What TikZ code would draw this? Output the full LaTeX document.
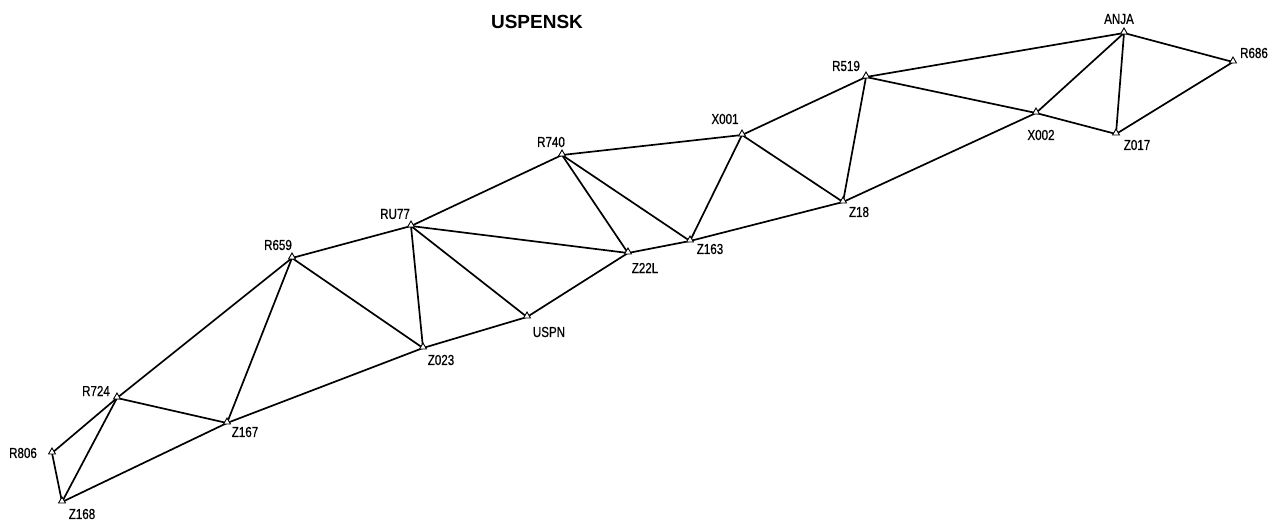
\documentclass[tikz,border=0pt]{standalone}
\usepackage{fontspec}
\setmainfont{Liberation Sans}
\newfontfamily\stationfont{Liberation Sans}[FakeStretch=0.8,FakeBold=0.6]
\usetikzlibrary{shapes.geometric}
\begin{document}
\begin{tikzpicture}[x=1pt,y=-1pt,
  station/.style={regular polygon,regular polygon sides=3,draw,line width=0.9pt,
    minimum size=8pt,inner sep=0pt,fill=white},
  stlabel/.style={font=\stationfont\fontsize{14.5}{14.5}\selectfont,inner sep=0pt,anchor=center},
  leg/.style={line width=1.7pt,black}]
\useasboundingbox (0,0) rectangle (1278,521);
\fill[white] (0,0) rectangle (1278,521);

% survey stations
\coordinate (R806) at (52,453);
\coordinate (Z168) at (62,502);
\coordinate (R724) at (117,398);
\coordinate (Z167) at (227,423);
\coordinate (R659) at (292,258);
\coordinate (RU77) at (411,226);
\coordinate (Z023) at (423,348);
\coordinate (USPN) at (527,317);
\coordinate (R740) at (562,155);
\coordinate (Z22L) at (628,253);
\coordinate (Z163) at (690,241);
\coordinate (X001) at (742,135);
\coordinate (Z18)  at (843,202);
\coordinate (R519) at (866,77);
\coordinate (X002) at (1036,113);
\coordinate (ANJA) at (1124,33);
\coordinate (Z017) at (1116,134);
\coordinate (R686) at (1233,62);

% triangulation network
\draw[leg] (R806) -- (R724);
\draw[leg] (R806) -- (Z168);
\draw[leg] (Z168) -- (R724);
\draw[leg] (Z168) -- (Z167);
\draw[leg] (R724) -- (Z167);
\draw[leg] (R724) -- (R659);
\draw[leg] (Z167) -- (R659);
\draw[leg] (Z167) -- (Z023);
\draw[leg] (R659) -- (Z023);
\draw[leg] (R659) -- (RU77);
\draw[leg] (RU77) -- (Z023);
\draw[leg] (RU77) -- (USPN);
\draw[leg] (RU77) -- (Z22L);
\draw[leg] (RU77) -- (R740);
\draw[leg] (Z023) -- (USPN);
\draw[leg] (USPN) -- (Z22L);
\draw[leg] (R740) -- (Z22L);
\draw[leg] (R740) -- (Z163);
\draw[leg] (R740) -- (X001);
\draw[leg] (Z22L) -- (Z163);
\draw[leg] (Z163) -- (X001);
\draw[leg] (X001) -- (Z18);
\draw[leg] (X001) -- (R519);
\draw[leg] (Z163) -- (Z18);
\draw[leg] (Z18) -- (R519);
\draw[leg] (Z18) -- (X002);
\draw[leg] (R519) -- (X002);
\draw[leg] (X002) -- (Z017);
\draw[leg] (R519) -- (ANJA);
\draw[leg] (X002) -- (ANJA);
\draw[leg] (ANJA) -- (Z017);
\draw[leg] (ANJA) -- (R686);
\draw[leg] (Z017) -- (R686);

% station markers
\foreach \s in {R806,Z168,R724,Z167,R659,RU77,Z023,USPN,R740,Z22L,Z163,X001,Z18,R519,X002,ANJA,Z017,R686}
  \node[station] (m\s) at ([yshift=1pt]\s) {};

% station names
\node[stlabel] (tR806) at (23,453) {R806};
\node[stlabel] (tZ168) at (82,514) {Z168};
\node[stlabel] (tR724) at (96,391) {R724};
\node[stlabel] (tZ167) at (245,432) {Z167};
\node[stlabel] (tR659) at (278,245) {R659};
\node[stlabel] (tRU77) at (395,214) {RU77};
\node[stlabel] (tZ023) at (441,360) {Z023};
\node[stlabel] (tUSPN) at (549,332) {USPN};
\node[stlabel] (tR740) at (551,142) {R740};
\node[stlabel] (tZ22L) at (645,268) {Z22L};
\node[stlabel] (tZ163) at (710,249) {Z163};
\node[stlabel] (tX001) at (725,119) {X001};
\node[stlabel] (tZ18)  at (859,212) {Z18};
\node[stlabel] (tR519) at (846,66) {R519};
\node[stlabel] (tX002) at (1041,135) {X002};
\node[stlabel] (tZ017) at (1137,145) {Z017};
\node[stlabel] (tANJA) at (1119,19) {ANJA};
\node[stlabel] (tR686) at (1254,53) {R686};

% title
\node[font=\bfseries\fontsize{19}{19}\selectfont,inner sep=0pt] (title) at (537,22) {USPENSK};
\end{tikzpicture}
\end{document}
